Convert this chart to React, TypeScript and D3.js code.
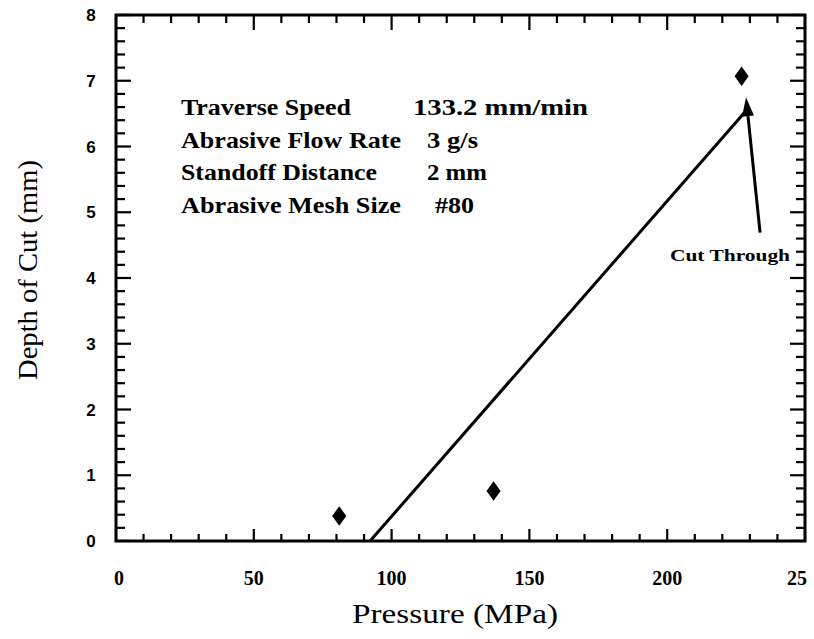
import React, { useEffect, useRef } from "react";
import * as d3 from "d3";

const pressure = [81, 137, 227];
const depth = [0.38, 0.76, 7.07];
const fitX = [92.2, 227.9];
const fitY = [0, 6.51];
const arrowFrom = [233.7, 4.69];
const arrowTo = [228.6, 6.75];
const xTickValues = [0, 50, 100, 150, 200, 250];
const xTickLabels = ["0", "50", "100", "150", "200", "25"];
const yTickValues = [0, 1, 2, 3, 4, 5, 6, 7, 8];
const infoLabels = ["Traverse Speed", "Abrasive Flow Rate", "Standoff Distance", "Abrasive Mesh Size"];
const infoValues = ["133.2 mm/min", "3 g/s", "2 mm", "#80"];

const W = 814, H = 639;
const L = 116, R = 805, T = 15, B = 541;
const SERIF = "Liberation Serif, Times New Roman, serif";
const SANS = "Liberation Sans, Arial, sans-serif";

export default function App() {
  const ref = useRef<SVGSVGElement>(null);
  useEffect(() => {
    const svg = d3.select(ref.current);
    svg.selectAll("*").remove();
    const x = d3.scaleLinear().domain([0, 250]).range([L, R]);
    const y = d3.scaleLinear().domain([0, 8]).range([B, T]);
    const g = svg.append("g");

    const xMinor = d3.range(0, 251, 10);
    const yMinor = d3.range(0, 8.01, 0.2).map((v) => +v.toFixed(1));
    const isMajorX = (v: number) => v % 50 === 0;
    const isMajorY = (v: number) => Math.abs(v - Math.round(v)) < 1e-6;
    xMinor.forEach((v) => {
      const maj = isMajorX(v);
      g.append("line").attr("x1", x(v)).attr("x2", x(v)).attr("y1", B).attr("y2", B - (maj ? 12 : 7)).attr("stroke", "#000").attr("stroke-width", 2.2);
      g.append("line").attr("x1", x(v)).attr("x2", x(v)).attr("y1", T).attr("y2", T + (maj ? 15 : 8)).attr("stroke", "#000").attr("stroke-width", 2.2);
    });
    yMinor.forEach((v) => {
      const maj = isMajorY(v);
      g.append("line").attr("x1", L).attr("x2", L + (maj ? 15 : 9)).attr("y1", y(v)).attr("y2", y(v)).attr("stroke", "#000").attr("stroke-width", 2.2);
      g.append("line").attr("x1", R).attr("x2", R - (maj ? 15 : 9)).attr("y1", y(v)).attr("y2", y(v)).attr("stroke", "#000").attr("stroke-width", 2.2);
    });
    g.append("rect").attr("x", L).attr("y", T).attr("width", R - L).attr("height", B - T).attr("fill", "none").attr("stroke", "#000").attr("stroke-width", 3);

    xTickValues.forEach((v, i) => {
      g.append("text").attr("x", x(v) + (i === 0 ? 3 : i === 5 ? -8 : 0)).attr("y", 585).attr("text-anchor", "middle")
        .attr("font-family", SERIF).attr("font-weight", "bold").attr("font-size", 20).text(xTickLabels[i]);
    });
    yTickValues.forEach((v) => {
      g.append("text").attr("x", 91).attr("y", y(v) + 6).attr("text-anchor", "middle")
        .attr("font-family", SANS).attr("font-weight", "bold").attr("font-size", 17).text(String(v));
    });

    g.append("text").attr("x", 352).attr("y", 623)
      .attr("font-family", SERIF).attr("font-size", 28).attr("textLength", 206).attr("lengthAdjust", "spacingAndGlyphs").text("Pressure (MPa)");
    g.append("text").attr("transform", "translate(37,380) rotate(-90)")
      .attr("font-family", SERIF).attr("font-size", 28).attr("textLength", 220).attr("lengthAdjust", "spacingAndGlyphs").text("Depth of Cut (mm)");

    const labW = [170, 220, 196, 220];
    infoLabels.forEach((t, i) => {
      const yy = 115 + i * 32.5;
      g.append("text").attr("x", 181).attr("y", yy).attr("font-family", SERIF)
        .attr("font-weight", "bold").attr("font-size", 23).attr("textLength", labW[i]).attr("lengthAdjust", "spacingAndGlyphs").text(t);
    });
    const valX = [413, 427, 427, 435];
    const valW = [175, 51, 60, 39];
    infoValues.forEach((t, i) => {
      const yy = 115 + i * 32.5;
      g.append("text").attr("x", valX[i]).attr("y", yy).attr("font-family", SERIF)
        .attr("font-weight", "bold").attr("font-size", 23).attr("textLength", valW[i]).attr("lengthAdjust", "spacingAndGlyphs").text(t);
    });

    const line = d3.line<number>().x((_, i) => x(fitX[i])).y((_, i) => y(fitY[i]));
    g.append("path").attr("d", line(fitX) as string).attr("fill", "none").attr("stroke", "#000").attr("stroke-width", 3);

    const diamond = d3.symbol().type(d3.symbolDiamond).size(110);
    pressure.forEach((p, i) => {
      g.append("path").attr("d", diamond() as string).attr("transform", `translate(${x(p)},${y(depth[i])}) scale(1.25,1)`).attr("fill", "#000");
    });

    const x1 = x(arrowFrom[0]), y1 = y(arrowFrom[1]), x2 = x(arrowTo[0]), y2 = y(arrowTo[1]);
    const ang = Math.atan2(y2 - y1, x2 - x1);
    const hl = 19, hw = 6;
    const bx = x2 - hl * Math.cos(ang), by = y2 - hl * Math.sin(ang);
    g.append("line").attr("x1", x1).attr("y1", y1).attr("x2", bx).attr("y2", by).attr("stroke", "#000").attr("stroke-width", 3);
    const px = -Math.sin(ang), py = Math.cos(ang);
    g.append("path").attr("d", `M${x2},${y2}L${bx + px * hw},${by + py * hw}L${bx - px * hw},${by - py * hw}Z`).attr("fill", "#000");
    g.append("text").attr("x", 670).attr("y", 261).attr("font-family", SERIF)
      .attr("font-weight", "bold").attr("font-size", 17).attr("textLength", 120).attr("lengthAdjust", "spacingAndGlyphs").text("Cut Through");
  }, []);
  return (
    <svg ref={ref} width={W} height={H} style={{ position: "absolute", left: 0, top: 0, background: "#fff" }} />
  );
}
